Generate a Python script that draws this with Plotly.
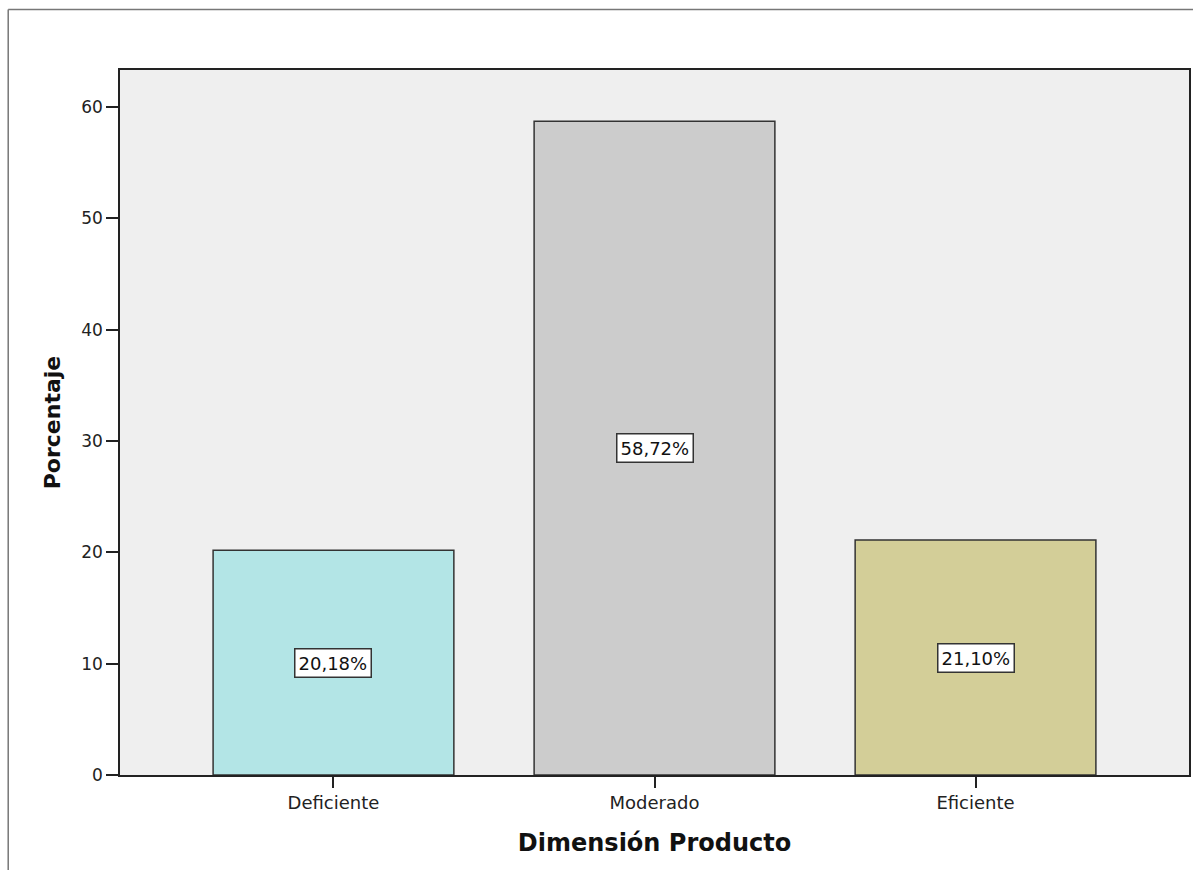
import plotly.graph_objects as go

categories = ["Deficiente", "Moderado", "Eficiente"]
percentages = [20.18, 58.72, 21.10]
bar_colors = ["#b3e5e6", "#cccccc", "#d3ce98"]
labels = ["20,18%", "58,72%", "21,10%"]
y_ticks = [0, 10, 20, 30, 40, 50, 60]

W, H = 1193, 870
L, R, T, B = 120, 2, 70, 95
FONT = "DejaVu Sans, Verdana, Arial"

fig = go.Figure()
fig.add_trace(go.Bar(
    x=categories, y=percentages, width=0.75,
    marker=dict(color=bar_colors, line=dict(color="#333333", width=1.5)),
    hoverinfo="skip",
))

for c, v, t in zip(categories, percentages, labels):
    fig.add_annotation(
        x=c, y=v / 2, text=t, showarrow=False,
        font=dict(family=FONT, size=18, color="#111111"),
        bgcolor="white", bordercolor="#333333", borderwidth=1.5, borderpad=3,
    )

pw, ph = W - L - R, H - T - B
# outer frame (left and top edges visible)
fx0 = (8 - L) / pw
fy1 = (H - B - 9.5) / ph
fig.add_shape(type="line", xref="paper", yref="paper", x0=fx0, x1=fx0,
              y0=-0.5, y1=fy1, line=dict(color="#777777", width=1.5))
fig.add_shape(type="line", xref="paper", yref="paper", x0=fx0, x1=1.2,
              y0=fy1, y1=fy1, line=dict(color="#777777", width=1.5))

fig.update_layout(
    width=W, height=H,
    margin=dict(l=L, r=R, t=T, b=B),
    paper_bgcolor="white", plot_bgcolor="#efefef",
    showlegend=False,
    font=dict(family=FONT, color="#222222"),
    xaxis=dict(
        range=[-0.665, 2.665], showline=True, mirror=True, linecolor="#222222", linewidth=1.5,
        ticks="outside", ticklen=11, tickcolor="#222222", tickwidth=1.5,
        tickfont=dict(size=18), showgrid=False,
        title=dict(text="<b>Dimensión Producto</b>", font=dict(size=24, color="#111111"), standoff=22),
    ),
    yaxis=dict(
        range=[0, 63.33], showline=True, mirror=True, linecolor="#222222", linewidth=1.5,
        tickvals=y_ticks, ticks="outside", ticklen=12, tickcolor="#222222", tickwidth=1.5,
        tickfont=dict(size=17), showgrid=False, zeroline=False,
        title=dict(text="<b>Porcentaje</b>", font=dict(size=22, color="#111111"), standoff=15),
    ),
)

fig.write_html("out.html")
